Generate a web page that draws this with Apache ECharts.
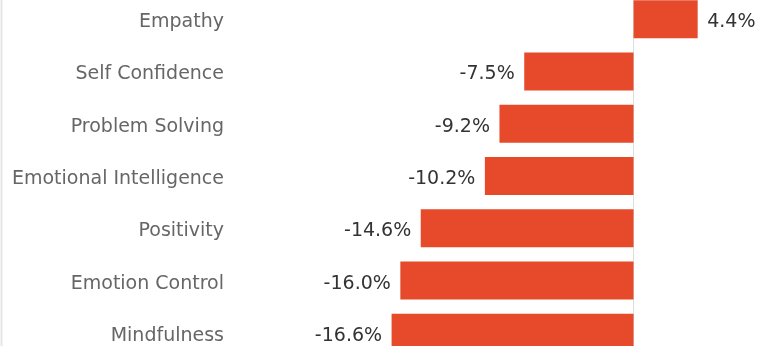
<!DOCTYPE html>
<html><head><meta charset="utf-8">
<script src="https://cdn.jsdelivr.net/npm/echarts@6/dist/echarts.min.js"></script>
<style>html,body{margin:0;padding:0;background:#fff}#c{width:758px;height:346px}</style>
</head><body><div id="c"></div>
<script>
const categories = ["Empathy","Self Confidence","Problem Solving","Emotional Intelligence","Positivity","Emotion Control","Mindfulness"];
const values = [4.4, -7.5, -9.2, -10.2, -14.6, -16.0, -16.6];

const FONT = '"DejaVu Sans", Verdana, sans-serif';
const chart = echarts.init(document.getElementById('c'), null, {renderer:'canvas'});
chart.setOption({
  animation:false,
  grid:{left:240, right:37, top:-7, bottom:-13, containLabel:false, outerBoundsMode:'none'},
  xAxis:{type:'value', min:-27, max:6, show:false, splitLine:{show:false}},
  yAxis:{type:'category', inverse:true, data:categories,
    axisTick:{show:false},
    axisLine:{show:true, onZero:true, lineStyle:{color:'#d8d8d8', type:'dotted', width:1}},
    axisLabel:{color:'#666', fontFamily:FONT, fontSize:19, margin:16,
      formatter:v=>'{a|'+v+'}',
      rich:{a:{color:'#666', fontFamily:FONT, fontSize:19, padding:[6,0,0,0]}}}
  },
  graphic:[{type:'line', shape:{x1:1.5,y1:0,x2:1.5,y2:346}, style:{stroke:'#e6e6e6', lineWidth:2}}],
  series:[{type:'bar', data:values, barWidth:38,
    itemStyle:{color:'#E64A2B'},
    label:{show:true, position:'outside', distance:9.5, color:'#333', fontFamily:FONT, fontSize:19,
      offset:[0,3], formatter:p=>p.value.toFixed(1)+'%'}
  }]
});
</script></body></html>
